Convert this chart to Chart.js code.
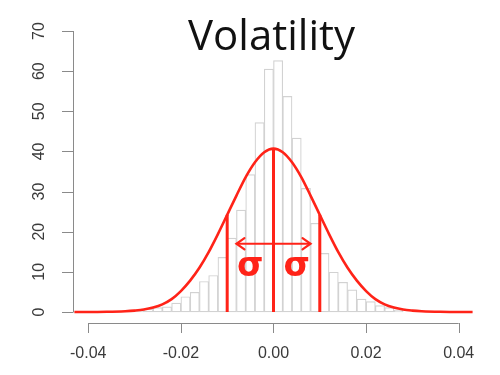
<!DOCTYPE html>
<html>
<head>
<meta charset="utf-8">
<script src="https://cdn.jsdelivr.net/npm/chart.js@4.4.1/dist/chart.umd.min.js"></script>
<style>
    html, body { margin: 0; padding: 0; background: #ffffff; }
</style>
</head>
<body>
<canvas id="chartVol" width="500" height="375"></canvas>
<script>
// histogram bins (centre of each 0.002 bin) and their heights
const binCenters = [-0.031, -0.029, -0.027, -0.025, -0.023, -0.021, -0.019, -0.017, -0.015, -0.013,
                    -0.011, -0.009, -0.007, -0.005, -0.003, -0.001, 0.001, 0.003, 0.005, 0.007,
                    0.009, 0.011, 0.013, 0.015, 0.017, 0.019, 0.021, 0.023, 0.025, 0.027];
const binHeights = [0.5, 0.5, 0.7, 1.1, 1.3, 2.2, 3.8, 4.9, 7.6, 9.1,
                    13.6, 18.4, 25.4, 34.2, 47.2, 60.5, 62.6, 53.7, 43.3, 30.8,
                    22.1, 14.6, 9.9, 7.4, 5.5, 3.2, 2.6, 1.6, 1.1, 0.5];

// red density curve
const curveX = [-0.043, -0.040, -0.036, -0.032, -0.030, -0.028, -0.026, -0.024, -0.022, -0.020,
                -0.018, -0.016, -0.014, -0.012, -0.010, -0.008, -0.006, -0.004, -0.002, 0,
                0.002, 0.004, 0.006, 0.008, 0.010, 0.012, 0.014, 0.016, 0.018, 0.020,
                0.022, 0.024, 0.026, 0.028, 0.030, 0.032, 0.036, 0.040, 0.043];
const curveY = [0, 0, 0.05, 0.2, 0.35, 0.6, 1.1, 1.9, 3.2, 5.2,
                7.8, 11.0, 14.9, 19.4, 24.2, 29.0, 33.6, 37.3, 39.8, 40.7,
                39.8, 37.3, 33.6, 29.0, 24.2, 19.4, 14.9, 11.0, 7.8, 5.2,
                3.2, 1.9, 1.1, 0.6, 0.35, 0.2, 0.05, 0, 0];

// sigma markers: vertical lines, arrow and labels
const sigmaLineX = [-0.01, 0, 0.01];
const sigmaLineTop = [24.2, 40.7, 24.2];
const arrowX = [-0.008, 0.008];
const arrowY = 17;
const sigmaLabelX = [-0.005, 0.005];
const sigmaLabelY = 8.9;
const sigmaLabels = ['σ', 'σ'];

// axis ticks
const yTicks = [0, 10, 20, 30, 40, 50, 60, 70];
const xTicks = [-0.04, -0.02, 0, 0.02, 0.04];
const xTickLabels = ['-0.04', '-0.02', '0.00', '0.02', '0.04'];
const titleText = 'Volatility';

const RED = '#ff2318';

const datasets = [{
    type: 'bar',
    data: binCenters.map((x, i) => ({ x: x, y: binHeights[i] })),
    backgroundColor: '#ffffff',
    borderColor: '#d2d2d2',
    borderWidth: 1.2,
    borderSkipped: false,
    barPercentage: 1,
    categoryPercentage: 1,
    order: 3
}, {
    type: 'line',
    data: curveX.map((x, i) => ({ x: x, y: curveY[i] })),
    borderColor: RED,
    borderWidth: 2.6,
    pointRadius: 0,
    cubicInterpolationMode: 'monotone',
    fill: false,
    clip: false,
    order: 1
}];

// vertical sigma lines
sigmaLineX.forEach((x, i) => {
    datasets.push({
        type: 'line',
        data: [{ x: x, y: 0 }, { x: x, y: sigmaLineTop[i] }],
        borderColor: RED,
        borderWidth: 3,
        pointRadius: 0,
        fill: false,
        clip: false,
        order: 1
    });
});

// horizontal arrow shaft
datasets.push({
    type: 'line',
    data: arrowX.map(x => ({ x: x, y: arrowY })),
    borderColor: RED,
    borderWidth: 2.2,
    pointRadius: 0,
    fill: false,
    clip: false,
    order: 1
});

// R-style axes, title, arrow heads and sigma labels
const decorPlugin = {
    id: 'decor',
    afterDatasetsDraw(chart) {
        const ctx = chart.ctx;
        const xs = chart.scales.x;
        const ys = chart.scales.y;
        ctx.save();

        // y axis
        const yAxisX = 73;
        ctx.strokeStyle = '#8a8a8a';
        ctx.lineWidth = 1;
        ctx.beginPath();
        ctx.moveTo(yAxisX + 0.5, ys.getPixelForValue(yTicks[0]));
        ctx.lineTo(yAxisX + 0.5, ys.getPixelForValue(yTicks[yTicks.length - 1]));
        yTicks.forEach(v => {
            const py = Math.round(ys.getPixelForValue(v)) + 0.5;
            ctx.moveTo(yAxisX + 0.5, py);
            ctx.lineTo(yAxisX - 11, py);
        });
        ctx.stroke();

        ctx.fillStyle = '#3a3a3a';
        ctx.font = '16px "Liberation Sans", Arial, sans-serif';
        ctx.textAlign = 'center';
        ctx.textBaseline = 'middle';
        yTicks.forEach(v => {
            ctx.save();
            ctx.translate(40, ys.getPixelForValue(v));
            ctx.rotate(-Math.PI / 2);
            ctx.fillText(String(v), 0, 0);
            ctx.restore();
        });

        // x axis
        const xAxisY = 323;
        ctx.beginPath();
        ctx.moveTo(xs.getPixelForValue(xTicks[0]), xAxisY + 0.5);
        ctx.lineTo(xs.getPixelForValue(xTicks[xTicks.length - 1]), xAxisY + 0.5);
        xTicks.forEach(v => {
            const px = Math.round(xs.getPixelForValue(v)) + 0.5;
            ctx.moveTo(px, xAxisY);
            ctx.lineTo(px, xAxisY + 10);
        });
        ctx.stroke();
        xTicks.forEach((v, i) => {
            ctx.fillText(xTickLabels[i], xs.getPixelForValue(v), 354);
        });

        // title
        ctx.fillStyle = '#111111';
        ctx.font = '42px "Open Sans", sans-serif';
        ctx.textBaseline = 'alphabetic';
        ctx.fillText(titleText, xs.getPixelForValue(0) - 2, 50);

        // arrow heads
        const ay = ys.getPixelForValue(arrowY);
        const head = 8;
        ctx.strokeStyle = RED;
        ctx.lineWidth = 2.2;
        ctx.lineCap = 'round';
        arrowX.forEach((x, i) => {
            const px = xs.getPixelForValue(x);
            const dir = i === 0 ? 1 : -1;
            ctx.beginPath();
            ctx.moveTo(px + dir * head, ay - head * 0.7);
            ctx.lineTo(px, ay);
            ctx.lineTo(px + dir * head, ay + head * 0.7);
            ctx.stroke();
        });

        // sigma labels
        ctx.fillStyle = RED;
        ctx.font = 'bold 34px "DejaVu Sans", sans-serif';
        ctx.textAlign = 'center';
        sigmaLabelX.forEach((x, i) => {
            ctx.fillText(sigmaLabels[i], xs.getPixelForValue(x), ys.getPixelForValue(sigmaLabelY));
        });

        ctx.restore();
    }
};

new Chart(document.getElementById('chartVol').getContext('2d'), {
    data: { datasets: datasets },
    options: {
        responsive: false,
        animation: false,
        layout: { padding: { left: 73, top: 31, right: 20, bottom: 59 } },
        plugins: {
            legend: { display: false },
            tooltip: { enabled: false },
            title: { display: false }
        },
        scales: {
            x: { type: 'linear', min: -0.0433, max: 0.0446, offset: false, display: false },
            y: { type: 'linear', min: -1, max: 70, display: false }
        }
    },
    plugins: [decorPlugin]
});
</script>
</body>
</html>
